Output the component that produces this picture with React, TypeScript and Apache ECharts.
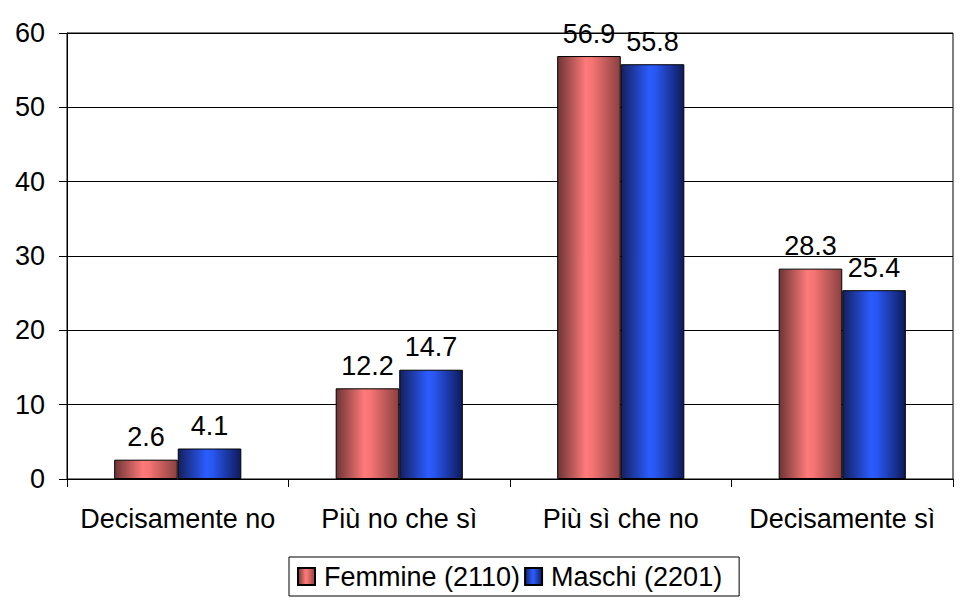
import React, { useEffect, useRef } from "react";
import * as echarts from "echarts";

const categories = ["Decisamente no", "Più no che sì", "Più sì che no", "Decisamente sì"];
const femmine = [2.6, 12.2, 56.9, 28.3];
const maschi = [4.1, 14.7, 55.8, 25.4];
const seriesNames = ["Femmine (2110)", "Maschi (2201)"];

const FONT = "Liberation Sans, Arial, sans-serif";
const FS = 27;

const redGrad = new echarts.graphic.LinearGradient(0, 0, 1, 0, [
  { offset: 0, color: "#6e3434" },
  { offset: 0.45, color: "#ff7a7a" },
  { offset: 0.55, color: "#f67474" },
  { offset: 1, color: "#8a4040" },
]);
const blueGrad = new echarts.graphic.LinearGradient(0, 0, 1, 0, [
  { offset: 0, color: "#14205e" },
  { offset: 0.45, color: "#2a5cff" },
  { offset: 0.55, color: "#2856f0" },
  { offset: 1, color: "#0e1a5a" },
]);

export default function App() {
  const ref = useRef<HTMLDivElement>(null);
  useEffect(() => {
    document.body.style.margin = "0";
    const chart = echarts.init(ref.current!, null, { renderer: "svg" });
    const labelStyle = {
      show: true,
      position: "top" as const,
      distance: 9,
      color: "#000",
      fontSize: FS,
      fontFamily: FONT,
    };
    chart.setOption({
      animation: false,
      backgroundColor: "#fff",
      grid: { left: 67, right: 17, top: 33, bottom: 125, show: true, borderColor: "#000", borderWidth: 1 },
      xAxis: {
        type: "category",
        data: categories,
        axisLine: { lineStyle: { color: "#000", width: 1 } },
        axisTick: { show: true, interval: 0, length: 8, lineStyle: { color: "#000" } },
        axisLabel: { color: "#000", fontSize: FS, fontFamily: FONT, margin: 26, interval: 0 },
      },
      yAxis: {
        type: "value",
        min: 0,
        max: 60,
        interval: 10,
        axisLine: { show: true, lineStyle: { color: "#000", width: 1 } },
        axisTick: { show: true, length: 8, lineStyle: { color: "#000" } },
        axisLabel: { color: "#000", fontSize: FS, fontFamily: FONT, margin: 22 },
        splitLine: { lineStyle: { color: "#000", width: 1 } },
      },
      legend: {
        left: 289,
        top: 557,
        itemWidth: 17,
        itemHeight: 17,
        itemGap: 4,
        padding: [6, 17, 6, 8],
        borderColor: "#000",
        borderWidth: 1,
        icon: "rect",
        textStyle: { color: "#000", fontSize: FS, fontFamily: FONT, padding: [0, 0, 0, 4] },
        data: seriesNames,
      },
      series: [
        {
          name: seriesNames[0],
          type: "bar",
          data: femmine,
          barWidth: "28.7%",
          barGap: "0%",
          itemStyle: { color: redGrad, borderColor: "#000", borderWidth: 1 },
          label: labelStyle,
        },
        {
          name: seriesNames[1],
          type: "bar",
          data: maschi,
          barWidth: "28.7%",
          barGap: "0%",
          itemStyle: { color: blueGrad, borderColor: "#000", borderWidth: 1 },
          label: labelStyle,
        },
      ],
    });
    return () => chart.dispose();
  }, []);
  return <div ref={ref} style={{ width: 970, height: 604 }} />;
}
